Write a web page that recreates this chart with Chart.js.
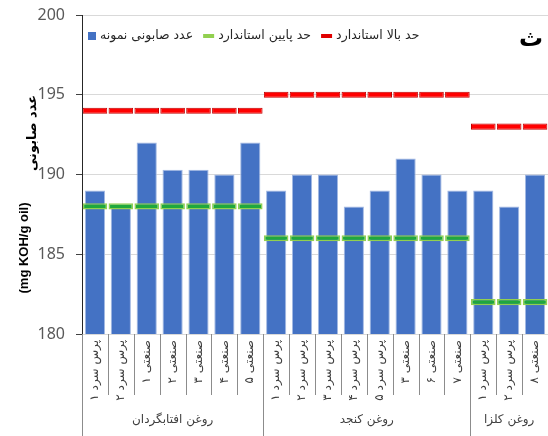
<!DOCTYPE html>
<html>
<head>
<meta charset="utf-8">
<script src="https://cdn.jsdelivr.net/npm/chart.js@4.4.1/dist/chart.umd.min.js"></script>
<style>
    html, body { margin: 0; padding: 0; background: #fff; }
    #wrap { width: 548px; height: 436px; }
</style>
</head>
<body>
<div id="wrap"><canvas id="saponChart"></canvas></div>
<script>
const categories = [
    'پرس سرد ۱', 'پرس سرد ۲', 'صنعتی ۱', 'صنعتی ۲', 'صنعتی ۳', 'صنعتی ۴', 'صنعتی ۵',
    'پرس سرد ۱', 'پرس سرد ۲', 'پرس سرد ۳', 'پرس سرد ۴', 'پرس سرد ۵', 'صنعتی ۳', 'صنعتی ۶', 'صنعتی ۷',
    'پرس سرد ۱', 'پرس سرد ۲', 'صنعتی ۸'
];
const groupNames = ['روغن افتابگردان', 'روغن کنجد', 'روغن کلزا'];
const groupSizes = [7, 8, 3];

const sampleValues = [189, 188, 192, 190.3, 190.3, 190, 192,
    189, 190, 190, 188, 189, 191, 190, 189,
    189, 188, 190];
const lowerStd = [188, 188, 188, 188, 188, 188, 188,
    186, 186, 186, 186, 186, 186, 186, 186,
    182, 182, 182];
const upperStd = [194, 194, 194, 194, 194, 194, 194,
    195, 195, 195, 195, 195, 195, 195, 195,
    193, 193, 193];
const yTicks = [180, 185, 190, 195, 200];

const seriesNames = ['عدد صابونی نمونه', 'حد پایین استاندارد', 'حد بالا استاندارد'];
const panelLetter = 'ث';
const yTitleFa = 'عدد صابونی';
const yTitleUnit = '(mg KOH/g oil)';

// dash thickness of the standard marks, in axis units
const dashHalf = 0.19;
const toDash = v => [v - dashHalf, v + dashHalf];

const decorPlugin = {
    id: 'decorPlugin',
    afterDraw(chart) {
        const { ctx, chartArea } = chart;
        const xs = chart.scales.x;
        const step = xs.getPixelForValue(1) - xs.getPixelForValue(0);

        ctx.save();

        // category separators under the axis
        const groupEdges = [0];
        groupSizes.reduce((acc, n) => { groupEdges.push(acc + n); return acc + n; }, 0);
        ctx.strokeStyle = '#8c8c8c';
        ctx.lineWidth = 1;
        for (let i = 0; i <= categories.length; i++) {
            const x = Math.round(xs.getPixelForValue(i) - step / 2) + 0.5;
            const isGroup = groupEdges.includes(i);
            ctx.beginPath();
            ctx.moveTo(x, chartArea.bottom);
            ctx.lineTo(x, isGroup ? 436 : 395);
            ctx.stroke();
        }

        // group labels
        ctx.fillStyle = '#404040';
        ctx.font = '12px "DejaVu Sans"';
        ctx.textAlign = 'center';
        ctx.textBaseline = 'middle';
        groupNames.forEach((name, g) => {
            const a = groupEdges[g], b = groupEdges[g + 1] - 1;
            const cx = (xs.getPixelForValue(a) + xs.getPixelForValue(b)) / 2;
            ctx.fillText(name, cx, 420);
        });

        // legend inside the plot
        const markers = [
            { color: '#4472c4', type: 'box' },
            { color: '#92d050', type: 'dash' },
            { color: '#e00000', type: 'dash' }
        ];
        ctx.font = '12.5px "DejaVu Sans"';
        ctx.textAlign = 'left';
        let lx = chartArea.left + 6;
        const ly = 36;
        seriesNames.forEach((name, i) => {
            const m = markers[i];
            ctx.fillStyle = m.color;
            if (m.type === 'box') {
                ctx.fillRect(lx, ly - 4, 8, 8);
                lx += 12;
            } else {
                ctx.fillRect(lx, ly - 2, 11, 4);
                lx += 15;
            }
            ctx.fillStyle = '#262626';
            ctx.fillText(name, lx, ly);
            lx += ctx.measureText(name).width + 10;
        });

        // panel letter
        ctx.font = 'bold 24px "DejaVu Sans"';
        ctx.textAlign = 'right';
        ctx.fillStyle = '#000';
        ctx.fillText(panelLetter, 543, 40);

        // y axis title
        ctx.fillStyle = '#000';
        ctx.font = 'bold 13px "DejaVu Sans"';
        ctx.textAlign = 'center';
        ctx.translate(33, 133);
        ctx.rotate(-Math.PI / 2);
        ctx.fillText(yTitleFa, 0, 0);
        ctx.rotate(Math.PI / 2);
        ctx.translate(-33, -133);
        ctx.font = 'bold 13px "Liberation Sans"';
        ctx.translate(24, 248);
        ctx.rotate(-Math.PI / 2);
        ctx.fillText(yTitleUnit, 0, 0);

        ctx.restore();
    }
};

const ctx = document.getElementById('saponChart').getContext('2d');
new Chart(ctx, {
    type: 'bar',
    data: {
        labels: categories,
        datasets: [
            {
                label: seriesNames[2],
                data: upperStd.map(toDash),
                grouped: false,
                order: 1,
                backgroundColor: '#ff0000',
                borderColor: '#c00000',
                borderWidth: 1,
                borderSkipped: false,
                barPercentage: 0.95,
                categoryPercentage: 1
            },
            {
                label: seriesNames[1],
                data: lowerStd.map(toDash),
                grouped: false,
                order: 2,
                backgroundColor: '#1fa83c',
                borderColor: '#92d050',
                borderWidth: 1.5,
                borderSkipped: false,
                barPercentage: 0.95,
                categoryPercentage: 1
            },
            {
                label: seriesNames[0],
                data: sampleValues,
                grouped: false,
                order: 3,
                backgroundColor: '#4472c4',
                borderColor: '#a3b9e3',
                borderWidth: 1,
                borderSkipped: 'bottom',
                barPercentage: 0.78,
                categoryPercentage: 1
            }
        ]
    },
    options: {
        responsive: true,
        maintainAspectRatio: false,
        animation: false,
        layout: { padding: { top: 15, right: 0, bottom: 0, left: 0 } },
        plugins: {
            legend: { display: false },
            tooltip: { enabled: false }
        },
        scales: {
            x: {
                offset: true,
                grid: { drawOnChartArea: false, drawTicks: false, color: 'rgba(0,0,0,0)' },
                border: { display: true, color: '#d9d9d9' },
                ticks: {
                    minRotation: 90,
                    maxRotation: 90,
                    autoSkip: false,
                    padding: 6,
                    color: '#404040',
                    font: { family: '"DejaVu Sans"', size: 12 }
                },
                afterFit(scale) {
                    scale.height = 102;
                    scale.paddingLeft = 0;
                    scale.paddingRight = 0;
                }
            },
            y: {
                min: yTicks[0],
                max: yTicks[yTicks.length - 1],
                afterBuildTicks(scale) {
                    scale.ticks = yTicks.map(v => ({ value: v }));
                },
                grid: {
                    color: c => (c.tick && c.tick.value === yTicks[0]) ? 'rgba(0,0,0,0)' : '#d9d9d9',
                    tickColor: '#404040',
                    tickLength: 6
                },
                border: { display: true, color: '#262626' },
                ticks: {
                    padding: 11,
                    color: '#595959',
                    font: { family: '"Noto Sans"', size: 16 }
                },
                afterFit(scale) {
                    scale.width = 82;
                    scale.paddingTop = 0;
                    scale.paddingBottom = 0;
                }
            }
        }
    },
    plugins: [decorPlugin]
});
</script>
</body>
</html>
